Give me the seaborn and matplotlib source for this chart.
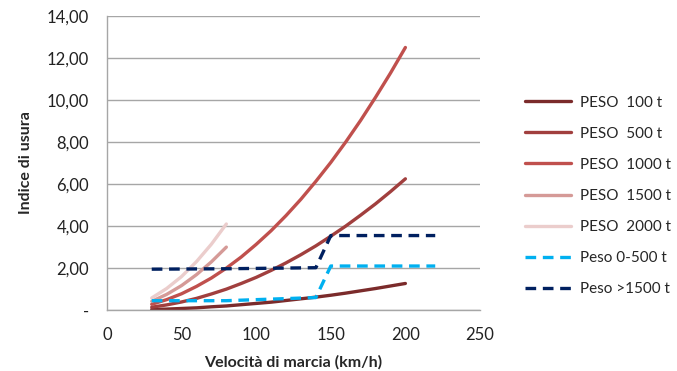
import pandas as pd
import seaborn as sns
import matplotlib.pyplot as plt
from matplotlib.ticker import FuncFormatter

# speeds (km/h) for the long curves
speed = [30, 40, 50, 60, 70, 80, 90, 100, 110, 120, 130, 140, 150, 160, 170, 180, 190, 200]
peso_100 = [0.03, 0.05, 0.08, 0.11, 0.16, 0.20, 0.26, 0.32, 0.38, 0.46, 0.54, 0.62, 0.71, 0.81, 0.92, 1.03, 1.15, 1.27]
peso_500 = [0.14, 0.25, 0.39, 0.56, 0.77, 1.00, 1.27, 1.56, 1.89, 2.25, 2.64, 3.06, 3.52, 4.00, 4.52, 5.06, 5.64, 6.25]
peso_1000 = [0.28, 0.50, 0.78, 1.13, 1.53, 2.00, 2.53, 3.13, 3.78, 4.50, 5.28, 6.13, 7.03, 8.00, 9.03, 10.13, 11.28, 12.50]

# short curves, heavy trains
speed_short = [30, 40, 50, 60, 70, 80]
peso_1500 = [0.42, 0.75, 1.17, 1.69, 2.30, 3.00]
peso_2000 = [0.58, 1.03, 1.60, 2.31, 3.14, 4.10]

# step lines
speed_step = [30, 80, 140, 150, 220]
peso_0_500 = [0.45, 0.45, 0.60, 2.10, 2.10]
peso_1500_plus = [1.95, 1.97, 2.02, 3.55, 3.55]

series = [
    ("PESO  100 t", speed, peso_100, "#7B2B2B", "-"),
    ("PESO  500 t", speed, peso_500, "#A13F3E", "-"),
    ("PESO  1000 t", speed, peso_1000, "#C0504D", "-"),
    ("PESO  1500 t", speed_short, peso_1500, "#D59A97", "-"),
    ("PESO  2000 t", speed_short, peso_2000, "#EBCDCC", "-"),
    ("Peso 0-500 t", speed_step, peso_0_500, "#00B0F0", "--"),
    ("Peso >1500 t", speed_step, peso_1500_plus, "#002060", "--"),
]

sns.set_style("white")
plt.rcParams["font.family"] = ["Lato", "DejaVu Sans"]

fig = plt.figure(figsize=(6.77, 3.71), dpi=100)
ax = fig.add_axes([0.158, 0.164, 0.551, 0.793])

for name, xs, ys, col, ls in series:
    df = pd.DataFrame({"x": xs, "y": ys})
    sns.lineplot(data=df, x="x", y="y", ax=ax, color=col, lw=2.4, label=name)
    if ls == "--":
        ax.lines[-1].set_dashes([3.2, 2.0])

ax.set_xlim(0, 250)
ax.set_ylim(0, 14)
ax.set_xticks([0, 50, 100, 150, 200, 250])
ax.set_yticks(range(0, 15, 2))
ax.yaxis.set_major_formatter(FuncFormatter(lambda v, p: "-" if v == 0 else f"{v:.2f}".replace(".", ",")))
ax.tick_params(axis="both", labelsize=12, length=0, colors="#222222")
ax.tick_params(axis="y", pad=13)
ax.tick_params(axis="x", pad=12)
ax.grid(axis="y", color="#A6A6A6", lw=1)
ax.set_axisbelow(True)
for s in ["top", "right"]:
    ax.spines[s].set_visible(False)
for s in ["left", "bottom"]:
    ax.spines[s].set_color("#A6A6A6")
    ax.spines[s].set_linewidth(1)

ax.set_xlabel("Velocità di marcia (km/h)", fontsize=11.5, fontweight="bold", labelpad=9)
ax.set_ylabel("Indice di usura", fontsize=11.5, fontweight="bold", labelpad=10)

handles, labels = ax.get_legend_handles_labels()
ax.legend_.remove()
fig.legend(handles, labels, loc="center left", bbox_to_anchor=(0.755, 0.472), frameon=False,
           fontsize=11, handlelength=3.0, handletextpad=0.6, labelspacing=1.12)

fig.savefig("out.png", dpi=100)
